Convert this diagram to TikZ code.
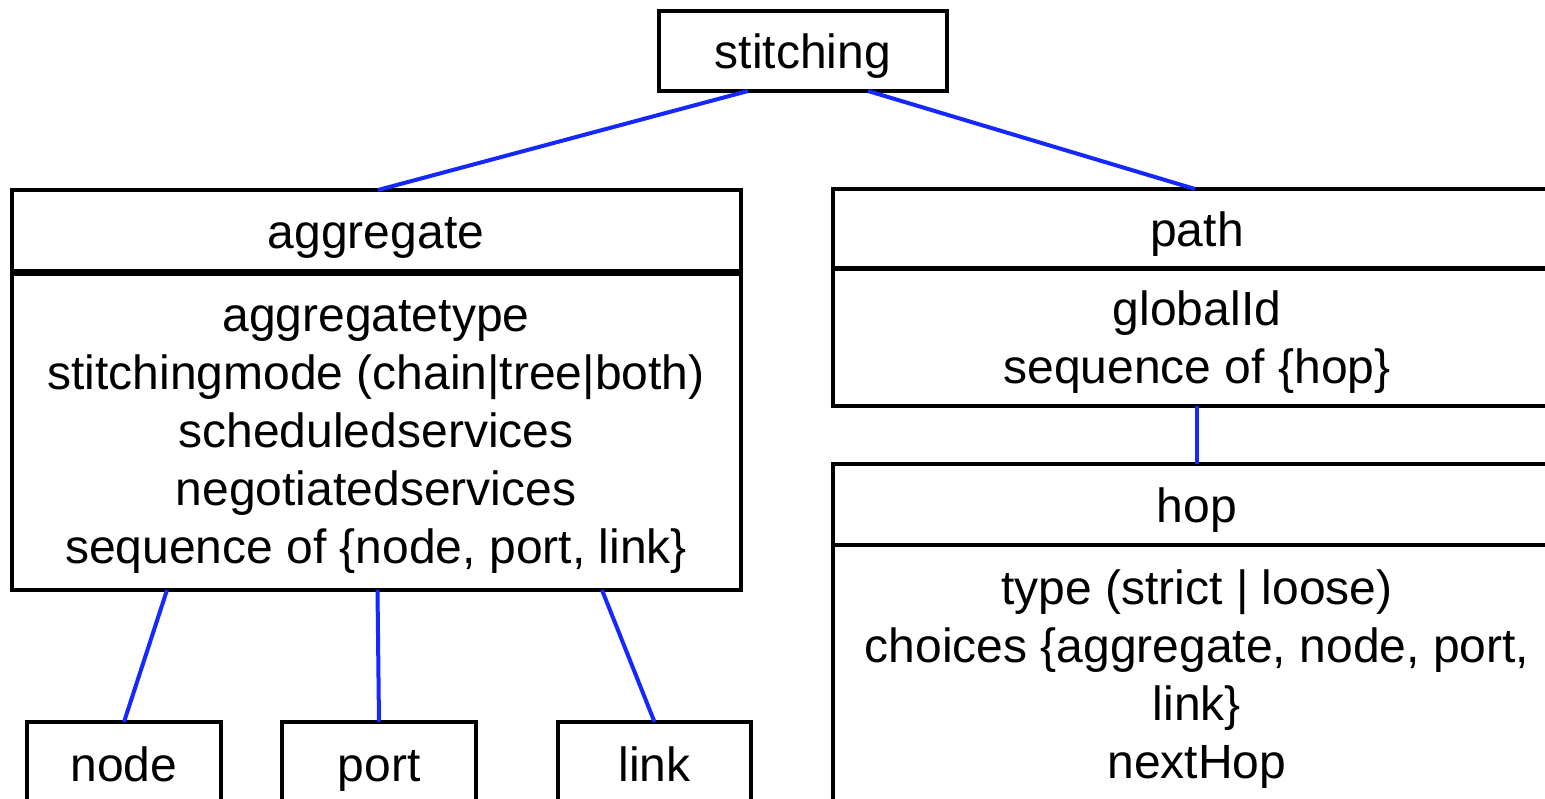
\documentclass[tikz,border=0pt]{standalone}
\usepackage{fontspec}
\setmainfont{Liberation Sans}
\definecolor{linkblue}{RGB}{20,40,255}
\begin{document}
\begin{tikzpicture}[x=1pt,y=-1pt,
  box/.style={draw=black,line width=4pt,fill=white,inner sep=0pt,outer sep=0pt,
    font=\fontsize{48}{58}\selectfont,align=center,text depth=0pt},
  one/.style={text height=35pt},
  conn/.style={draw=linkblue,line width=4pt}]
\useasboundingbox (0,0) rectangle (1545,798);
% top
\node[box,one,minimum width=288pt,minimum height=80pt] (st) at (803,51) {stitching};
% aggregate
\node[box,one,minimum width=729pt,minimum height=81pt] (aggH) at (376,230.5) {aggregate};
\node[box,minimum width=729pt,minimum height=316pt] (aggB) at (376,432) 
  {aggregatetype\\ stitchingmode (chain|tree|both)\\ scheduledservices\\ negotiatedservices\\ sequence of \{node, port, link\}};
% path
\node[box,one,minimum width=728pt,minimum height=79pt] (pathH) at (1197,228.5) {path};
\node[box,minimum width=728pt,minimum height=137pt] (pathB) at (1197,337) {globalId\\ sequence of \{hop\}};
% hop
\node[box,one,minimum width=728pt,minimum height=81pt] (hopH) at (1197,504.5) {hop};
\node[box,minimum width=728pt,minimum height=258pt] (hopB) at (1197,674) {type (strict | loose)\\ choices \{aggregate, node, port,\\ link\}\\ nextHop};
% leaves
\node[box,one,minimum width=194pt,minimum height=84pt] (nd) at (124,764) {node};
\node[box,one,minimum width=194pt,minimum height=84pt] (pt) at (379,764) {port};
\node[box,one,minimum width=193pt,minimum height=84pt] (lk) at (654.5,764) {link};
% connectors
\draw[conn] ([xshift=-55pt]st.south) -- ([xshift=2pt]aggH.north);
\draw[conn] ([xshift=65pt]st.south) -- ([xshift=-2pt]pathH.north);
\draw[conn] (pathB.south) -- (hopH.north);
\draw[conn] ([xshift=-209pt]aggB.south) -- (nd.north);
\draw[conn] ([xshift=1.5pt]aggB.south) -- (pt.north);
\draw[conn] ([xshift=226pt]aggB.south) -- (lk.north);
\end{tikzpicture}
\end{document}
